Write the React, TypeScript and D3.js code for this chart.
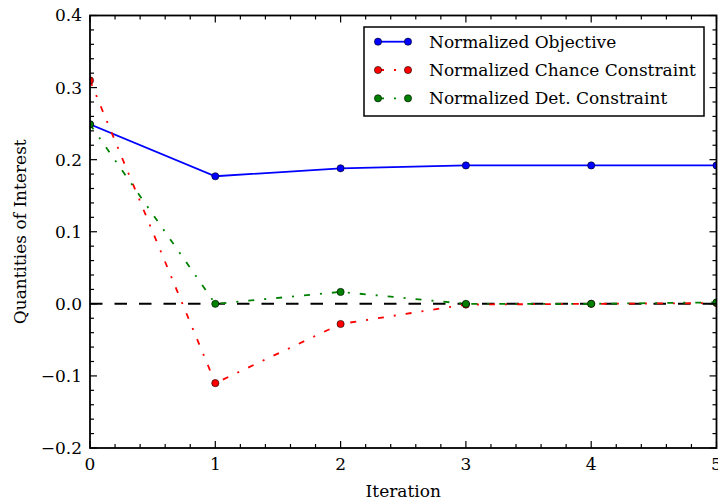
import React from "react";
import * as d3 from "d3";

// Iteration history of the normalized quantities
const iterations = [0, 1, 2, 3, 4, 5];
const objective = [0.249, 0.177, 0.188, 0.192, 0.192, 0.192];
const chanceConstraint = [0.31, -0.11, -0.028, -0.001, 0.0, 0.001];
const detConstraint = [0.249, 0.0, 0.0165, 0.0, 0.0, 0.002];

const xMajor = [0, 1, 2, 3, 4, 5];
const yMajor = [-0.2, -0.1, 0.0, 0.1, 0.2, 0.3, 0.4];
const legendLabels = [
  "Normalized Objective",
  "Normalized Chance Constraint",
  "Normalized Det. Constraint",
];

const W = 718;
const H = 504;
const FONT = "'DejaVu Serif', serif";
const FS = 17;

export default function App() {
  const left = 90, right = 716.5, top = 15.5, bottom = 448;
  const x = d3.scaleLinear().domain([0, 5]).range([left, right]);
  const y = d3.scaleLinear().domain([-0.2, 0.4]).range([bottom, top]);

  const xMinor = d3.range(0, 5.0001, 0.2).filter((v) => Math.abs(v - Math.round(v)) > 1e-6);
  const yMinor = d3.range(-0.2, 0.40001, 0.02).filter(
    (v) => Math.abs(v * 10 - Math.round(v * 10)) > 1e-6
  );

  const line = d3
    .line<number>()
    .x((_, i) => x(iterations[i]))
    .y((d) => y(d));

  const series = [
    { values: objective, color: "#0000ff", dash: undefined as string | undefined },
    { values: chanceConstraint, color: "#ff0000", dash: "6,10,2,10" },
    { values: detConstraint, color: "#008000", dash: "6,10,2,10" },
  ];

  const fmt = (v: number) => {
    const s = Math.abs(v).toFixed(1);
    return v < -1e-9 ? "\u2212" + s : s;
  };

  const majorLen = 7;
  const minorLen = 4;

  return (
    <svg
      width={W}
      height={H}
      style={{ position: "absolute", left: 0, top: 0, background: "#fff" }}
      fontFamily={FONT}
    >
      <defs>
        <clipPath id="plotClip">
          <rect x={left} y={top} width={right - left} height={bottom - top} />
        </clipPath>
      </defs>
      <rect x={0} y={0} width={W} height={H} fill="#fff" />

      <g clipPath="url(#plotClip)">
        {/* zero reference */}
        <line
          x1={left}
          x2={right}
          y1={y(0)}
          y2={y(0)}
          stroke="#000"
          strokeWidth={2}
          strokeDasharray="12.5,12"
        />
        {series.map((s, si) => (
          <g key={si}>
            <path
              d={line(s.values) || ""}
              fill="none"
              stroke={s.color}
              strokeWidth={1.8}
              strokeDasharray={s.dash}
            />
            {s.values.map((v, i) => (
              <circle
                key={i}
                cx={x(iterations[i])}
                cy={y(v)}
                r={3.6}
                fill={s.color}
                stroke="#000"
                strokeWidth={0.6}
              />
            ))}
          </g>
        ))}
      </g>

      {/* ticks on all four sides, pointing inward */}
      <g stroke="#000" strokeWidth={1.2}>
        {xMajor.map((v) => (
          <g key={"xM" + v}>
            <line x1={x(v)} x2={x(v)} y1={bottom} y2={bottom - majorLen} />
            <line x1={x(v)} x2={x(v)} y1={top} y2={top + majorLen} />
          </g>
        ))}
        {xMinor.map((v, i) => (
          <g key={"xm" + i}>
            <line x1={x(v)} x2={x(v)} y1={bottom} y2={bottom - minorLen} />
            <line x1={x(v)} x2={x(v)} y1={top} y2={top + minorLen} />
          </g>
        ))}
        {yMajor.map((v) => (
          <g key={"yM" + v}>
            <line x1={left} x2={left + majorLen} y1={y(v)} y2={y(v)} />
            <line x1={right} x2={right - majorLen} y1={y(v)} y2={y(v)} />
          </g>
        ))}
        {yMinor.map((v, i) => (
          <g key={"ym" + i}>
            <line x1={left} x2={left + minorLen} y1={y(v)} y2={y(v)} />
            <line x1={right} x2={right - minorLen} y1={y(v)} y2={y(v)} />
          </g>
        ))}
      </g>

      <rect
        x={left}
        y={top}
        width={right - left}
        height={bottom - top}
        fill="none"
        stroke="#000"
        strokeWidth={1.8}
      />

      {/* tick labels */}
      <g fontSize={FS} fill="#000">
        {xMajor.map((v) => (
          <text key={"xl" + v} x={x(v)} y={bottom + 22} textAnchor="middle">
            {String(v)}
          </text>
        ))}
        {yMajor.map((v) => (
          <text key={"yl" + v} x={left - 8} y={y(v)} dy="0.35em" textAnchor="end">
            {fmt(v)}
          </text>
        ))}
      </g>

      <text x={(left + right) / 2} y={497} textAnchor="middle" fontSize={FS}>
        Iteration
      </text>
      <text
        transform={`translate(26,${(top + bottom) / 2}) rotate(-90)`}
        textAnchor="middle"
        fontSize={FS}
      >
        Quantities of Interest
      </text>

      {/* legend */}
      <g>
        <rect x={364} y={27} width={340} height={89} fill="#fff" stroke="#000" strokeWidth={1.5} />
        {series.map((s, i) => {
          const cy = 41.7 + i * 28.3;
          return (
            <g key={"lg" + i}>
              <line
                x1={378}
                x2={408}
                y1={cy}
                y2={cy}
                stroke={s.color}
                strokeWidth={1.8}
                strokeDasharray={s.dash}
              />
              <circle cx={378} cy={cy} r={3.6} fill={s.color} stroke="#000" strokeWidth={0.6} />
              <circle cx={408} cy={cy} r={3.6} fill={s.color} stroke="#000" strokeWidth={0.6} />
              <text x={429} y={cy} dy="0.35em" fontSize={FS}>
                {legendLabels[i]}
              </text>
            </g>
          );
        })}
      </g>
    </svg>
  );
}
